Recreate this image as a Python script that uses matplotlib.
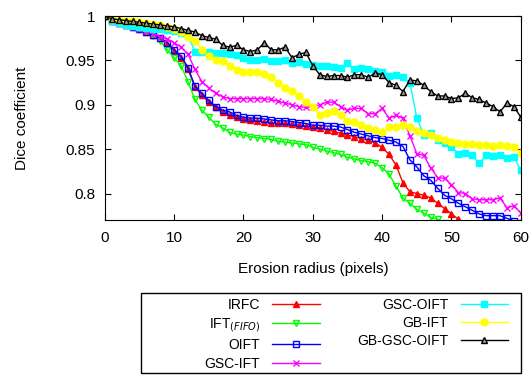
import numpy as np
import matplotlib
matplotlib.use('Agg')
import matplotlib.pyplot as plt
from matplotlib.patches import Rectangle

plt.rcParams['font.family'] = ['Liberation Sans', 'DejaVu Sans']

# erosion radius (pixels)
radius = np.arange(0, 61)

irfc = [1.0, 0.995, 0.992, 0.990, 0.988, 0.985, 0.982, 0.979, 0.975, 0.969,
        0.961, 0.953, 0.940, 0.920, 0.911, 0.903, 0.897, 0.892, 0.889, 0.886,
        0.884, 0.883, 0.882, 0.881, 0.880, 0.879, 0.879, 0.878, 0.877, 0.876,
        0.875, 0.874, 0.872, 0.870, 0.868, 0.866, 0.864, 0.862, 0.860, 0.857,
        0.852, 0.844, 0.832, 0.812, 0.802, 0.800, 0.798, 0.795, 0.789, 0.783,
        0.777, 0.771, 0.766]
ift_fifo = [1.0, 0.996, 0.994, 0.992, 0.990, 0.987, 0.983, 0.978, 0.972, 0.962,
            0.953, 0.944, 0.926, 0.906, 0.894, 0.886, 0.878, 0.874, 0.869, 0.867,
            0.866, 0.864, 0.863, 0.862, 0.861, 0.859, 0.858, 0.857, 0.856, 0.855,
            0.852, 0.850, 0.848, 0.846, 0.844, 0.841, 0.839, 0.837, 0.836, 0.834,
            0.829, 0.822, 0.808, 0.795, 0.789, 0.782, 0.778, 0.773, 0.771, 0.767,
            0.764]
oift = [1.0, 0.995, 0.992, 0.990, 0.988, 0.985, 0.982, 0.979, 0.975, 0.970,
        0.962, 0.955, 0.942, 0.921, 0.913, 0.905, 0.898, 0.894, 0.892, 0.888,
        0.886, 0.885, 0.885, 0.884, 0.883, 0.882, 0.882, 0.881, 0.880, 0.879,
        0.877, 0.877, 0.876, 0.876, 0.875, 0.872, 0.869, 0.867, 0.865, 0.863,
        0.862, 0.860, 0.858, 0.853, 0.838, 0.830, 0.820, 0.815, 0.806, 0.798,
        0.794, 0.789, 0.785, 0.781, 0.777, 0.775, 0.775, 0.775, 0.772, 0.769,
        0.767]
gsc_ift = [1.0, 0.995, 0.992, 0.990, 0.988, 0.985, 0.983, 0.980, 0.977, 0.974,
           0.970, 0.965, 0.957, 0.940, 0.926, 0.919, 0.913, 0.909, 0.907, 0.907,
           0.907, 0.907, 0.907, 0.907, 0.906, 0.904, 0.902, 0.900, 0.898, 0.897,
           0.898, 0.900, 0.903, 0.903, 0.898, 0.894, 0.896, 0.896, 0.890, 0.890,
           0.896, 0.885, 0.888, 0.885, 0.865, 0.845, 0.843, 0.829, 0.818, 0.817,
           0.810, 0.801, 0.800, 0.794, 0.793, 0.793, 0.793, 0.795, 0.784, 0.786,
           0.778]
gsc_oift = [1.0, 0.995, 0.992, 0.990, 0.989, 0.988, 0.987, 0.986, 0.985, 0.984,
            0.983, 0.981, 0.978, 0.960, 0.960, 0.959, 0.958, 0.958, 0.957, 0.956,
            0.953, 0.951, 0.950, 0.952, 0.949, 0.949, 0.950, 0.947, 0.948, 0.946,
            0.945, 0.944, 0.944, 0.943, 0.942, 0.947, 0.940, 0.941, 0.940, 0.938,
            0.937, 0.933, 0.934, 0.931, 0.925, 0.885, 0.866, 0.868, 0.860, 0.857,
            0.852, 0.845, 0.846, 0.843, 0.834, 0.843, 0.842, 0.843, 0.840, 0.841,
            0.826]
gb_ift = [1.0, 0.997, 0.996, 0.995, 0.994, 0.993, 0.992, 0.991, 0.990, 0.988,
          0.986, 0.982, 0.976, 0.972, 0.962, 0.955, 0.951, 0.949, 0.944, 0.939,
          0.937, 0.937, 0.937, 0.935, 0.931, 0.925, 0.919, 0.916, 0.910, 0.903,
          0.898, 0.889, 0.891, 0.893, 0.888, 0.882, 0.881, 0.877, 0.874, 0.872,
          0.869, 0.875, 0.875, 0.877, 0.875, 0.871, 0.868, 0.866, 0.863, 0.860,
          0.858, 0.857, 0.856, 0.856, 0.855, 0.855, 0.854, 0.855, 0.854, 0.853,
          0.846]
gb_gsc_oift = [1.0, 0.997, 0.996, 0.995, 0.994, 0.993, 0.992, 0.991, 0.990, 0.989,
               0.988, 0.986, 0.984, 0.982, 0.978, 0.976, 0.974, 0.967, 0.965, 0.967,
               0.962, 0.960, 0.962, 0.970, 0.962, 0.962, 0.965, 0.953, 0.957, 0.959,
               0.944, 0.934, 0.932, 0.933, 0.933, 0.931, 0.934, 0.934, 0.931, 0.936,
               0.934, 0.925, 0.922, 0.915, 0.928, 0.927, 0.922, 0.915, 0.910, 0.910,
               0.907, 0.908, 0.913, 0.908, 0.906, 0.902, 0.898, 0.892, 0.902, 0.898,
               0.886]

fig = plt.figure(figsize=(5.32, 3.75), dpi=100)
ax = fig.add_axes([0.197, 0.413, 0.782, 0.544])

ms = 5
ax.plot(radius[:len(irfc)], irfc, color='#ff0000', lw=1, marker='^', ms=4, label='IRFC')
ax.plot(radius[:len(ift_fifo)], ift_fifo, color='#00ff00', lw=1, marker='v', ms=ms,
        mfc='none', label='IFT$_{(FIFO)}$')
ax.plot(radius, oift, color='#0000ff', lw=1, marker='s', ms=ms, mfc='none', label='OIFT')
ax.plot(radius, gsc_ift, color='#ff00ff', lw=1, marker='x', ms=ms, label='GSC-IFT')
ax.plot(radius, gsc_oift, color='#00ffff', lw=1, marker='s', ms=ms, label='GSC-OIFT')
ax.plot(radius, gb_ift, color='#ffff00', lw=1, marker='o', ms=ms, label='GB-IFT')
ax.plot(radius, gb_gsc_oift, color='black', lw=1, marker='^', ms=ms, mfc='#999999',
        label='GB-GSC-OIFT')

ax.set_xlim(0, 60)
ax.set_ylim(0.77, 1.0)
ax.set_xticks([0, 10, 20, 30, 40, 50, 60])
ax.set_yticks([0.8, 0.85, 0.9, 0.95, 1.0])
ax.set_yticklabels(['0.8', '0.85', '0.9', '0.95', '1'])
ax.tick_params(direction='in', top=True, right=True, labelsize=11, length=4)
ax.tick_params(axis='x', pad=8)
ax.tick_params(axis='y', pad=7)
ax.set_xlabel('Erosion radius (pixels)', fontsize=11, labelpad=12)
ax.set_ylabel('Dice coefficient', fontsize=11, labelpad=26)

# legend entries (gnuplot style: text right-aligned, sample on the right)
leg = ax.legend(loc='upper right', bbox_to_anchor=(508 / 532, 1 - 298 / 375),
                bbox_transform=fig.transFigure, ncol=2, frameon=False,
                markerfirst=False, numpoints=1, fontsize=10, handlelength=3.4,
                handletextpad=0.9, columnspacing=2.7, labelspacing=0.3,
                borderpad=0, borderaxespad=0)
# outer box of the key
fig.patches.append(Rectangle((141 / 532, 1 - 373 / 375), 380 / 532, 80 / 375,
                             transform=fig.transFigure, fill=False,
                             edgecolor='black', lw=1))

fig.savefig('out.png', dpi=100)
